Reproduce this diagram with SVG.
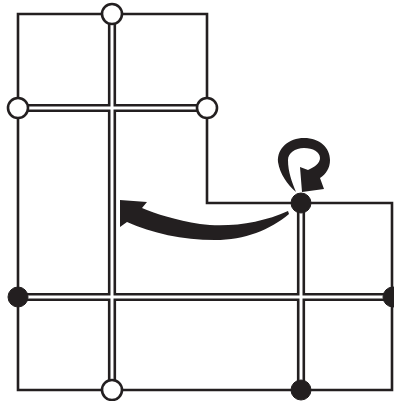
<svg xmlns="http://www.w3.org/2000/svg" width="394" height="401" viewBox="0 0 394 401">
<style>
.outline{fill:none;stroke:#231f20;stroke-width:2.6;stroke-linejoin:miter}
.dblk{fill:none;stroke:#231f20;stroke-width:8.2}
.dwht{fill:none;stroke:#fff;stroke-width:3}
.open{fill:#fff;stroke:#231f20;stroke-width:2.6}
.full{fill:#231f20;stroke:#231f20;stroke-width:1}
.arrow{fill:#231f20;stroke:none}
</style>
<rect width="394" height="401" fill="#fff"/>
<g id="outline">
<path class="outline" d="M18,14 H207 V203 H392 V390 H18 Z"/>
</g>
<g id="connectors">
<g id="double-lines-black">
<line class="dblk" x1="112" y1="14" x2="112" y2="390"/>
<line class="dblk" x1="18" y1="108" x2="207" y2="108"/>
<line class="dblk" x1="18" y1="297" x2="393" y2="297"/>
<line class="dblk" x1="301" y1="203" x2="301" y2="390"/>
</g>
<g id="double-lines-white">
<line class="dwht" x1="112" y1="14" x2="112" y2="390"/>
<line class="dwht" x1="18" y1="108" x2="207" y2="108"/>
<line class="dwht" x1="18" y1="297" x2="393" y2="297"/>
<line class="dwht" x1="301" y1="203" x2="301" y2="390"/>
</g>
<path id="curved-arrow" class="arrow" d="M288,211 C262,223 228,228 200,224 C176,220 156,214 142,208 L147,202 L120,200 L120,227 L127,222 C152,233 182,240 215,240 C245,240 270,230 289,214 Z"/>
<path id="self-loop" class="arrow" d="M296,192 C287,184 280,174 278,162 C277,148 289,138 304,138 C320,138 330,148 330,160 C330,168 326,174 320,178 L324,189 L302,192 L300,167 L308,170 C315,167 320,163 320,158 C320,152 313,148 304,148 C295,148 288,153 288,160 C288,172 292,182 296,192 Z"/>
</g>
<g id="node-top" ><circle class="open" cx="112" cy="14" r="10"/></g>
<g id="node-left-upper"><circle class="open" cx="18" cy="108" r="10"/></g>
<g id="node-right-upper"><circle class="open" cx="207" cy="108" r="10"/></g>
<g id="node-bottom-left"><circle class="open" cx="112" cy="390" r="10"/></g>
<g id="node-corner"><circle class="full" cx="301" cy="203" r="10"/></g>
<g id="node-left-lower"><circle class="full" cx="18" cy="297" r="10"/></g>
<g id="node-right-lower"><circle class="full" cx="393" cy="297" r="10"/></g>
<g id="node-bottom-right"><circle class="full" cx="301" cy="390" r="10"/></g>
</svg>
